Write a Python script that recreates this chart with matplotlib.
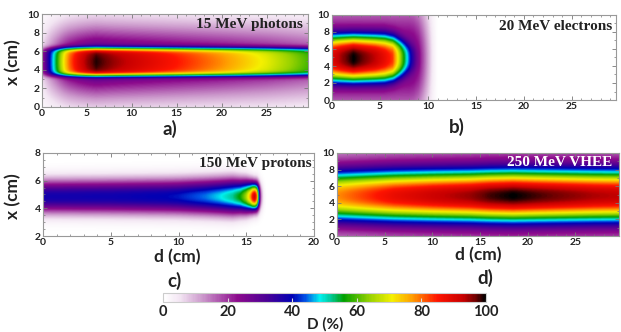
import math
import numpy as np
import matplotlib.pyplot as plt
from matplotlib.colors import LinearSegmentedColormap
from matplotlib.ticker import MultipleLocator

plt.rcParams['font.family'] = ['Lato', 'DejaVu Sans']
plt.rcParams['font.weight'] = 'bold'

# colour scale of the dose D (%)
cmap_pos = [0, .05, .12, .23, .32, .40, .44, .486, .52, .56, .64, .71, .77, .85, .93, .97, 1]
cmap_col = ['#ffffff', '#f3e6f3', '#cc99cc', '#8c0a8c', '#4b0096', '#0000b4', '#0050e6',
            '#00f0f0', '#00c896', '#00a000', '#96d200', '#f5f000', '#ffa000', '#ff1400',
            '#c80000', '#6e0000', '#000000']

# a) 15 MeV photons, dose on the beam axis (%)
depth_a = [0, 0.5, 1, 1.5, 2, 2.5, 3, 4, 5, 6, 7, 8, 10, 15, 20, 25, 29.6]
axis_a = [22, 33, 44, 54, 64, 73, 80, 89, 95, 99, 97, 95, 92, 85, 78, 70, 60]

# b) 20 MeV electrons, core part and wide halo on the axis (%), core width (cm)
depth_b = [0, 1, 2.2, 3.5, 4.5, 5.5, 6.3, 6.85, 7.4, 7.9, 8.3, 8.8, 9.3, 30]
core_b = [62, 67, 72, 68, 65, 60, 55, 43, 30, 19, 10, 3, 0, 0]
halo_depth_b = [0, 8, 8.5, 9, 9.5, 10, 10.5, 11, 30]
halo_b = [28, 28, 27, 24, 18, 11, 4, 0, 0]
width_depth_b = [0, 5.5, 6.5, 7.3, 8, 9]
width_b = [2.1, 2.1, 1.95, 1.7, 1.4, 1.0]

# c) 150 MeV protons, dose on the axis (%) and beam width (cm)
depth_c = [0, 5, 9, 10, 11, 12, 13, 14, 14.6, 15.0, 15.3, 15.5, 15.65, 15.8, 15.95, 16.1, 16.3, 16.5, 20]
axis_c = [38, 38.5, 40, 41, 43, 45, 48, 52, 57, 65, 76, 88, 92, 80, 45, 15, 3, 0, 0]
width_depth_c = [0, 10, 14, 15, 15.6, 16.5]
width_c = [0.88, 0.92, 0.95, 0.85, 0.72, 0.72]

# d) 250 MeV VHEE, dose on the axis (%)
depth_d = [0, 3, 6, 10, 14, 16, 18.5, 21, 24, 27, 29.6]
axis_d = [78, 83, 88, 92, 95, 98, 100, 98, 96, 94, 93]

centre = 4.85
cmap = LinearSegmentedColormap.from_list('dose', list(zip(cmap_pos, cmap_col)))
erf = np.vectorize(math.erf)


def flat_top(u, half, edge):
    return 0.5 * (1 + erf((half - np.abs(u)) / (edge * np.sqrt(2))))


def super_gauss(u, s, p):
    return np.exp(-0.5 * (np.abs(u) / s) ** p)


def gauss(u, s):
    return np.exp(-0.5 * (u / s) ** 2)


# dose maps
d_a = np.linspace(0, 29.6, 400)
x_a = np.linspace(0, 10, 200)
u = x_a - centre
prof_a = 0.65 * flat_top(u, 1.45, 0.25) + 0.35 * gauss(u, 2.8)
prof_a = prof_a / prof_a.max()
dose_a = prof_a[:, None] * np.interp(d_a, depth_a, axis_a)[None, :]

d_b = np.linspace(0, 29.6, 400)
x_b = np.linspace(0, 10, 200)
u = x_b - centre
wb = np.interp(d_b, width_depth_b, width_b)
dose_b = (super_gauss(u[:, None], wb[None, :], 3) * np.interp(d_b, depth_b, core_b)[None, :]
          + gauss(u, 5.0)[:, None] * np.interp(d_b, halo_depth_b, halo_b)[None, :])

d_c = np.linspace(0, 20, 500)
x_c = np.linspace(2, 8, 200)
u = x_c - centre
wc = np.interp(d_c, width_depth_c, width_c)
dose_c = super_gauss(u[:, None], wc[None, :], 2.2) * np.interp(d_c, depth_c, axis_c)[None, :]

d_d = np.linspace(0, 29.6, 400)
x_d = np.linspace(0, 10, 200)
u = x_d - centre
prof_d = 0.7 * super_gauss(u, 2.2, 2.4) + 0.3 * gauss(u, 5.0)
dose_d = prof_d[:, None] * np.interp(d_d, depth_d, axis_d)[None, :]

fig = plt.figure(figsize=(6.21, 3.32), dpi=100)
W, H = 621, 332


def box(l, t, r, b):
    return [l / W, 1 - b / H, (r - l) / W, (b - t) / H]


ax_a = fig.add_axes(box(42, 14, 308, 107))
ax_b = fig.add_axes(box(332, 15, 616, 100))
ax_c = fig.add_axes(box(43, 153, 314, 236))
ax_d = fig.add_axes(box(337, 153, 619, 236))
cax = fig.add_axes(box(163, 293, 486, 302))

panels = [(ax_a, dose_a, [0, 29.6, 0, 10]), (ax_b, dose_b, [0, 29.6, 0, 10]),
          (ax_c, dose_c, [0, 20, 2, 8]), (ax_d, dose_d, [0, 29.6, 0, 10])]
for ax, dose, ext in panels:
    im = ax.imshow(dose, extent=ext, origin='lower', aspect='auto', cmap=cmap,
                   vmin=0, vmax=100, interpolation='bilinear')
    ax.set_xlim(ext[0], ext[1])
    ax.set_ylim(ext[2], ext[3])
    ax.xaxis.set_major_locator(MultipleLocator(5))
    ax.xaxis.set_minor_locator(MultipleLocator(1))
    ax.yaxis.set_major_locator(MultipleLocator(2))
    ax.yaxis.set_minor_locator(MultipleLocator(1 if ext[3] == 10 else 0.5))
    ax.tick_params(which='both', direction='in', top=True, right=True, color='#777777',
                   labelsize=7.5, pad=1.5, labelcolor='#222222')
    ax.tick_params(which='major', length=3, width=0.6)
    ax.tick_params(which='minor', length=1.5, width=0.5)
    for s in ax.spines.values():
        s.set_color('#999999')
        s.set_linewidth(0.8)
    for lab in ax.get_xticklabels() + ax.get_yticklabels():
        lab.set_fontweight('bold')

title_font = dict(family='Liberation Serif', fontweight='bold', fontsize=11, ha='right', va='center')
ax_a.text(0.981, 0.89, '15 MeV photons', transform=ax_a.transAxes, color='#222222', **title_font)
ax_b.text(0.986, 0.86, '20 MeV electrons', transform=ax_b.transAxes, color='#222222', **title_font)
ax_c.text(0.99, 0.87, '150 MeV protons', transform=ax_c.transAxes, color='#222222', **title_font)
ax_d.text(0.975, 0.88, '250 MeV VHEE', transform=ax_d.transAxes, color='white', **title_font)

lab = dict(fontsize=12.5, fontweight='bold', color='#222222', ha='center', va='center')
fig.text(13 / W, 1 - 62 / H, 'x (cm)', rotation=90, **lab)
fig.text(13 / W, 1 - 196 / H, 'x (cm)', rotation=90, **lab)
fig.text(177 / W, 1 - 257 / H, 'd (cm)', **lab)
fig.text(478 / W, 1 - 255 / H, 'd (cm)', **lab)
pan = dict(lab, fontsize=13.5)
fig.text(170 / W, 1 - 129 / H, 'a)', **pan)
fig.text(457 / W, 1 - 127 / H, 'b)', **pan)
fig.text(175 / W, 1 - 281 / H, 'c)', **pan)
fig.text(485 / W, 1 - 278 / H, 'd)', **pan)

cb = fig.colorbar(im, cax=cax, orientation='horizontal', ticks=[0, 20, 40, 60, 80, 100])
cb.outline.set_edgecolor('#cccccc')
cb.ax.tick_params(labelsize=10.5, length=3, color='#dddddd', direction='in', pad=2, labelcolor='#222222')
for t in cb.ax.get_xticklabels():
    t.set_fontweight('bold')
fig.text(325 / W, 1 - 324 / H, 'D (%)', fontsize=11, fontweight='bold', color='#222222',
         ha='center', va='center')

fig.savefig('out.png', dpi=100)
